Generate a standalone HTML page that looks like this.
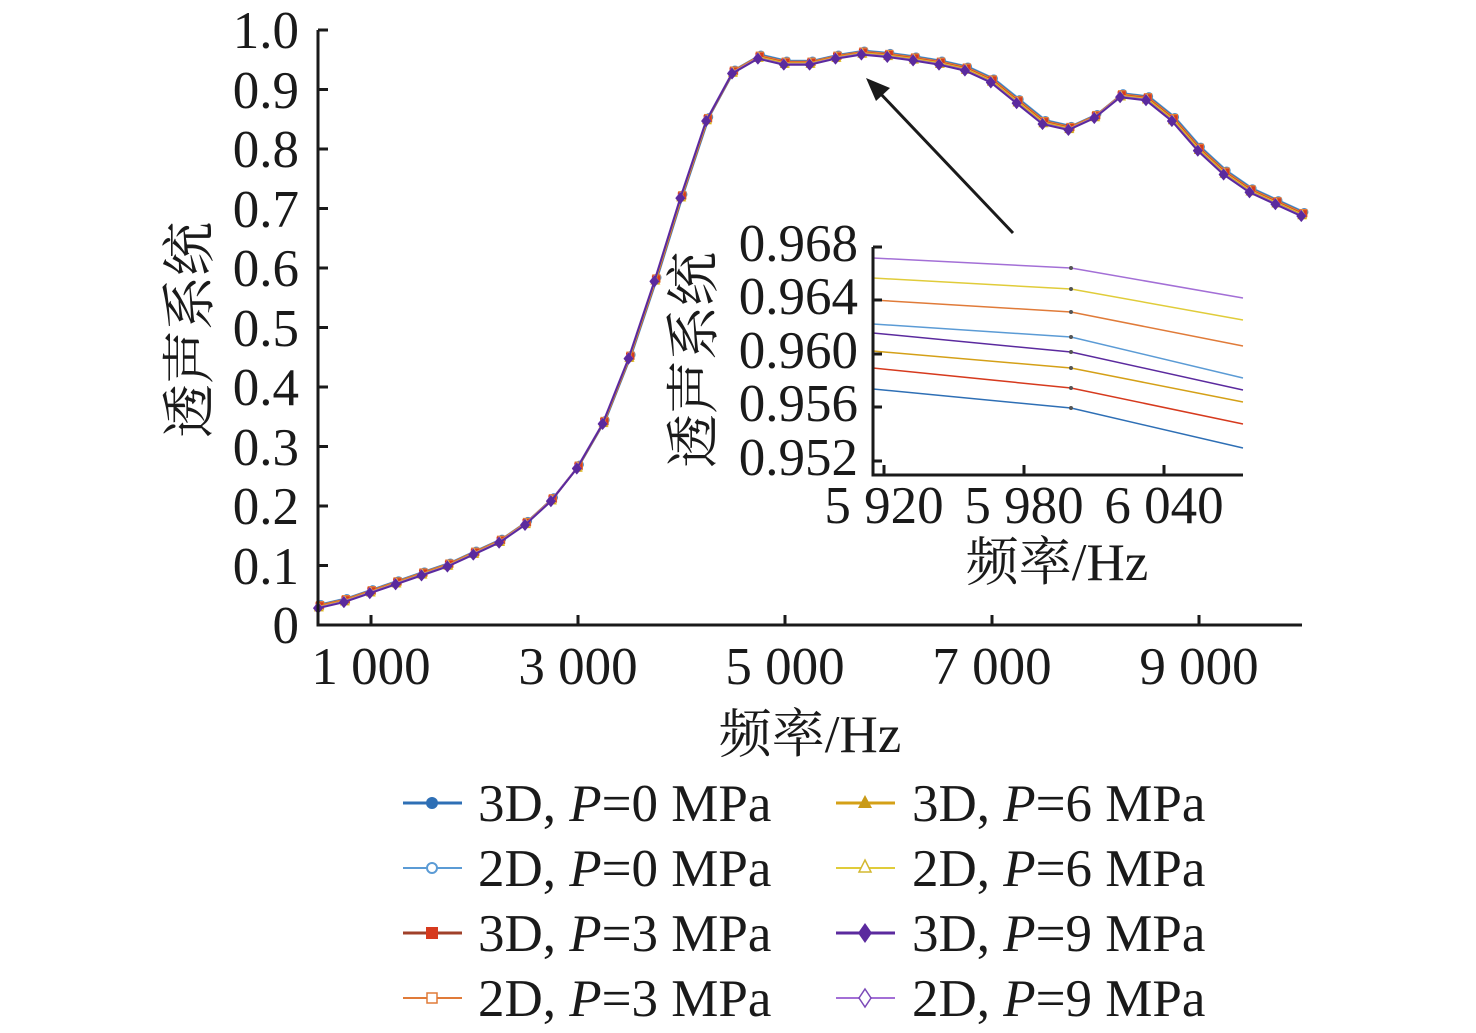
<!DOCTYPE html>
<html><head><meta charset="utf-8"><style>
body{margin:0;background:#fff}
text{font-family:"Liberation Serif","Noto Serif CJK SC",serif;fill:#1a1a1a}
</style></head><body>
<svg width="1476" height="1028" xmlns="http://www.w3.org/2000/svg">
<defs>
<marker id="mf1" markerWidth="10" markerHeight="10" refX="5" refY="5" markerUnits="userSpaceOnUse"><circle cx="5" cy="5" r="4" fill="#2e6fb5"/></marker>
<marker id="mo1" markerWidth="10" markerHeight="10" refX="5" refY="5" markerUnits="userSpaceOnUse"><circle cx="5" cy="5" r="3.5" fill="#fff" stroke="#5b9bd5" stroke-width="1.3"/></marker>
<marker id="mf2" markerWidth="10" markerHeight="10" refX="5" refY="5" markerUnits="userSpaceOnUse"><rect x="1" y="1" width="8" height="8" fill="#d63a1e"/></marker>
<marker id="mo2" markerWidth="10" markerHeight="10" refX="5" refY="5" markerUnits="userSpaceOnUse"><rect x="1.5" y="1.5" width="7" height="7" fill="#fff" stroke="#e07b39" stroke-width="1.3"/></marker>
<marker id="mf3" markerWidth="10" markerHeight="10" refX="5" refY="5" markerUnits="userSpaceOnUse"><path d="M5 0.5L9.5 9H0.5Z" fill="#d4a017"/></marker>
<marker id="mo3" markerWidth="10" markerHeight="10" refX="5" refY="5" markerUnits="userSpaceOnUse"><path d="M5 1L9 9H1Z" fill="#fff" stroke="#e0cc3a" stroke-width="1.3"/></marker>
<marker id="mf4" markerWidth="12" markerHeight="12" refX="6" refY="6" markerUnits="userSpaceOnUse"><path d="M6 0L11 6L6 12L1 6Z" fill="#5b2a9e"/></marker>
<marker id="mo4" markerWidth="12" markerHeight="12" refX="6" refY="6" markerUnits="userSpaceOnUse"><path d="M6 1L10 6L6 11L2 6Z" fill="#fff" stroke="#a36fd6" stroke-width="1.3"/></marker>
<polyline id="base" fill="none" points="319,606.2 344.9,600.2 370.8,591.3 396.6,582.4 422.5,573.5 448.4,564.6 474.3,552.7 500.1,540.8 526,523 551.9,499.3 577.8,466.6 603.6,422 629.5,356.7 655.4,279.5 681.3,196.3 707.1,119.1 733,71.6 758.9,56.7 784.8,62.7 810.6,62.7 836.5,56.7 862.4,52.6 888.3,55 914.1,58.5 940,62.7 965.9,68.6 991.8,80.5 1017.6,101.3 1043.5,122.1 1069.4,128 1095.3,116.1 1121.1,95.3 1147,98.3 1172.9,119.1 1198.8,148.8 1224.6,172.6 1250.5,190.4 1276.4,202.3 1302.3,214.1"/>
</defs>
<g stroke-width="2">
<use href="#base" transform="translate(2,-2)" stroke="#5b9bd5" style="marker:url(#mo1)"/>
<use href="#base" transform="translate(1.5,-1.5)" stroke="#2e6fb5" style="marker:url(#mf1)"/>
<use href="#base" transform="translate(1,-1)" stroke="#e07b39" style="marker:url(#mo2)"/>
<use href="#base" transform="translate(0.5,0)" stroke="#d63a1e" style="marker:url(#mf2)"/>
<use href="#base" transform="translate(0,0.5)" stroke="#e0cc3a" style="marker:url(#mo3)"/>
<use href="#base" transform="translate(-0.5,1)" stroke="#d4a017" style="marker:url(#mf3)"/>
<use href="#base" transform="translate(-1,1.5)" stroke="#a36fd6" style="marker:url(#mo4)"/>
<use href="#base" transform="translate(-1,2)" stroke="#5b2a9e" style="marker:url(#mf4)"/>
</g>
<g stroke="#1a1a1a" stroke-width="3" fill="none">
<path d="M318 30V625H1302"/>
<path d="M318 30h10M318 89.5h10M318 149h10M318 208.5h10M318 268h10M318 327.5h10M318 387h10M318 446.5h10M318 506h10M318 565.5h10"/>
<path d="M371 625v-10M578 625v-10M785 625v-10M992 625v-10M1199 625v-10"/>
</g>
<g font-size="53" text-anchor="end">
<text x="299" y="48">1.0</text><text x="299" y="108">0.9</text><text x="299" y="167">0.8</text><text x="299" y="227">0.7</text><text x="299" y="286">0.6</text><text x="299" y="346">0.5</text><text x="299" y="405">0.4</text><text x="299" y="465">0.3</text><text x="299" y="524">0.2</text><text x="299" y="584">0.1</text><text x="299" y="643">0</text>
</g>
<g font-size="53" text-anchor="middle">
<text x="371" y="684">1 000</text><text x="578" y="684">3 000</text><text x="785" y="684">5 000</text><text x="992" y="684">7 000</text><text x="1199" y="684">9 000</text>
<text x="810" y="752">频率/Hz</text>
</g>
<text font-size="54" text-anchor="middle" transform="translate(208,330) rotate(-90)">透声系统</text>
<line x1="1013" y1="233" x2="878" y2="91" stroke="#1a1a1a" stroke-width="3"/>
<path d="M866 78L890 88L876 101Z" fill="#1a1a1a"/>
<g stroke-width="1.5" fill="none">
<polyline points="873,258 1071,268 1243,298" stroke="#a36fd6"/>
<polyline points="873,278 1071,289 1243,320" stroke="#e0cc3a"/>
<polyline points="873,300 1071,312 1243,346" stroke="#e07b39"/>
<polyline points="873,324 1071,337 1243,378" stroke="#5b9bd5"/>
<polyline points="873,333 1071,352 1243,390" stroke="#5b2a9e"/>
<polyline points="873,351 1071,368 1243,402" stroke="#d4a017"/>
<polyline points="873,368 1071,388 1243,424" stroke="#d63a1e"/>
<polyline points="873,389 1071,408 1243,448" stroke="#2e6fb5"/>
</g>
<g fill="#555"><circle cx="1071" cy="268" r="2"/><circle cx="1071" cy="289" r="2"/><circle cx="1071" cy="312" r="2"/><circle cx="1071" cy="337" r="2"/><circle cx="1071" cy="352" r="2"/><circle cx="1071" cy="368" r="2"/><circle cx="1071" cy="388" r="2"/><circle cx="1071" cy="408" r="2"/></g>
<g stroke="#1a1a1a" stroke-width="3" fill="none">
<path d="M873 247V475H1243"/>
<path d="M873 247h9M873 300h9M873 354h9M873 407h9M873 461h9"/>
<path d="M884 475v-10M1024 475v-10M1164 475v-10"/>
</g>
<g font-size="53" text-anchor="end">
<text x="858" y="261">0.968</text><text x="858" y="314">0.964</text><text x="858" y="368">0.960</text><text x="858" y="421">0.956</text><text x="858" y="475">0.952</text>
</g>
<g font-size="53" text-anchor="middle">
<text x="884" y="523">5 920</text><text x="1024" y="523">5 980</text><text x="1164" y="523">6 040</text>
<text x="1057" y="580">频率/Hz</text>
</g>
<text font-size="54" text-anchor="middle" transform="translate(712,360) rotate(-90)">透声系统</text>
<g stroke-width="3">
<line x1="403" y1="803" x2="462" y2="803" stroke="#2e6fb5"/><circle cx="432" cy="803" r="6" fill="#2e6fb5"/>
<line x1="403" y1="868" x2="462" y2="868" stroke="#5b9bd5" stroke-width="2"/><circle cx="432" cy="868" r="5" fill="#fff" stroke="#5b9bd5" stroke-width="2"/>
<line x1="403" y1="933" x2="462" y2="933" stroke="#a0402a"/><rect x="426" y="927" width="12" height="12" fill="#d63a1e"/>
<line x1="403" y1="998" x2="462" y2="998" stroke="#e07b39" stroke-width="2"/><rect x="427" y="993" width="10" height="10" fill="#fff" stroke="#e07b39" stroke-width="1.5"/>
<line x1="836" y1="803" x2="895" y2="803" stroke="#d4a017"/><path d="M865 795L872 808H858Z" fill="#c99a17"/>
<line x1="836" y1="868" x2="895" y2="868" stroke="#e0cc3a" stroke-width="2"/><path d="M865 860L871 872H859Z" fill="#fff" stroke="#d4b830" stroke-width="1.5"/>
<line x1="836" y1="933" x2="895" y2="933" stroke="#5b2a9e"/><path d="M865 923L872 933L865 943L858 933Z" fill="#5b2a9e"/>
<line x1="836" y1="998" x2="895" y2="998" stroke="#a36fd6" stroke-width="2"/><path d="M865 989L871 998L865 1007L859 998Z" fill="#fff" stroke="#7b4ab8" stroke-width="1.5"/>
</g>
<g font-size="53">
<text x="478" y="821">3D, <tspan font-style="italic">P</tspan>=0 MPa</text>
<text x="478" y="886">2D, <tspan font-style="italic">P</tspan>=0 MPa</text>
<text x="478" y="951">3D, <tspan font-style="italic">P</tspan>=3 MPa</text>
<text x="478" y="1016">2D, <tspan font-style="italic">P</tspan>=3 MPa</text>
<text x="912" y="821">3D, <tspan font-style="italic">P</tspan>=6 MPa</text>
<text x="912" y="886">2D, <tspan font-style="italic">P</tspan>=6 MPa</text>
<text x="912" y="951">3D, <tspan font-style="italic">P</tspan>=9 MPa</text>
<text x="912" y="1016">2D, <tspan font-style="italic">P</tspan>=9 MPa</text>
</g>
</svg>
</body></html>
